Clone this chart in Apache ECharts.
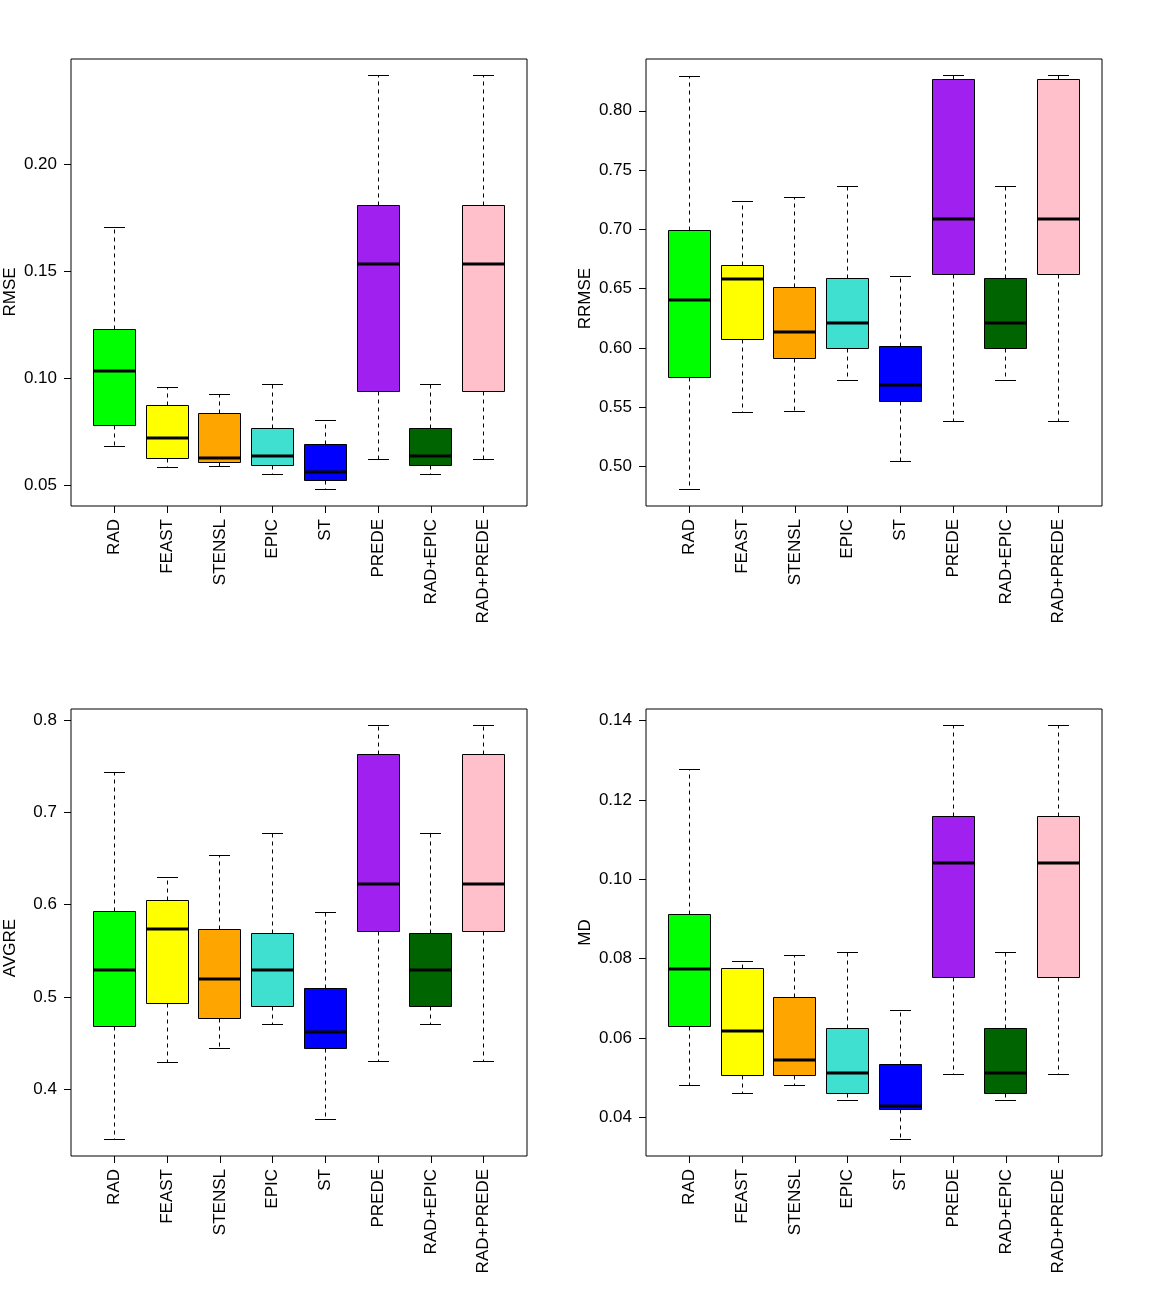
<!DOCTYPE html>
<html>
<head>
<meta charset="utf-8">
<script src="https://cdn.jsdelivr.net/npm/echarts@6.0.0/dist/echarts.min.js"></script>
<style>
  html, body { margin: 0; padding: 0; background: #fff; }
  #main { width: 1150px; height: 1300px; }
</style>
</head>
<body>
<div id="main"></div>
<script>
var categories = ['RAD', 'FEAST', 'STENSL', 'EPIC', 'ST', 'PREDE', 'RAD+EPIC', 'RAD+PREDE'];
var boxColors = ['#00FF00', '#FFFF00', '#FFA500', '#40E0D0', '#0000FF', '#A020F0', '#006400', '#FFC0CB'];

// each row: [lower whisker, Q1, median, Q3, upper whisker]
var rmseStats = [
  [0.0682, 0.0780, 0.1033, 0.1229, 0.1706],
  [0.0584, 0.0626, 0.0720, 0.0872, 0.0958],
  [0.0589, 0.0607, 0.0626, 0.0836, 0.0925],
  [0.0551, 0.0593, 0.0637, 0.0766, 0.0972],
  [0.0481, 0.0523, 0.0561, 0.0692, 0.0804],
  [0.0621, 0.0939, 0.1533, 0.1808, 0.2416],
  [0.0551, 0.0593, 0.0637, 0.0766, 0.0972],
  [0.0621, 0.0939, 0.1533, 0.1808, 0.2416]
];
var rrmseStats = [
  [0.4806, 0.5750, 0.6400, 0.6990, 0.8288],
  [0.5455, 0.6071, 0.6577, 0.6695, 0.7234],
  [0.5464, 0.5911, 0.6130, 0.6509, 0.7268],
  [0.5725, 0.5995, 0.6214, 0.6585, 0.7363],
  [0.5042, 0.5548, 0.5691, 0.6012, 0.6602],
  [0.5379, 0.6619, 0.7083, 0.8263, 0.8297],
  [0.5725, 0.5995, 0.6214, 0.6585, 0.7363],
  [0.5379, 0.6619, 0.7083, 0.8263, 0.8297]
];
var avgreStats = [
  [0.3459, 0.4682, 0.5288, 0.5926, 0.7431],
  [0.4292, 0.4931, 0.5732, 0.6045, 0.6294],
  [0.4444, 0.4768, 0.5201, 0.5732, 0.6532],
  [0.4703, 0.4898, 0.5288, 0.5688, 0.6771],
  [0.3675, 0.4444, 0.4617, 0.5093, 0.5916],
  [0.4303, 0.5710, 0.6219, 0.7626, 0.7939],
  [0.4703, 0.4898, 0.5288, 0.5688, 0.6771],
  [0.4303, 0.5710, 0.6219, 0.7626, 0.7939]
];
var mdStats = [
  [0.0481, 0.0629, 0.0773, 0.0911, 0.1276],
  [0.0460, 0.0506, 0.0617, 0.0775, 0.0793],
  [0.0481, 0.0506, 0.0546, 0.0702, 0.0808],
  [0.0443, 0.0460, 0.0513, 0.0624, 0.0815],
  [0.0345, 0.0420, 0.0430, 0.0533, 0.0669],
  [0.0508, 0.0753, 0.1042, 0.1158, 0.1387],
  [0.0443, 0.0460, 0.0513, 0.0624, 0.0815],
  [0.0508, 0.0753, 0.1042, 0.1158, 0.1387]
];

var rmseTicks = [0.05, 0.10, 0.15, 0.20];
var rrmseTicks = [0.50, 0.55, 0.60, 0.65, 0.70, 0.75, 0.80];
var avgreTicks = [0.4, 0.5, 0.6, 0.7, 0.8];
var mdTicks = [0.04, 0.06, 0.08, 0.10, 0.12, 0.14];

var FONT = '"Liberation Sans", Arial, sans-serif';

var panels = [
  { name: 'RMSE', stats: rmseStats, ticks: rmseTicks, dec: 2, left: 71, top: 59, shift: 19 },
  { name: 'RRMSE', stats: rrmseStats, ticks: rrmseTicks, dec: 2, left: 646, top: 59, shift: 32 },
  { name: 'AVGRE', stats: avgreStats, ticks: avgreTicks, dec: 1, left: 71, top: 709, shift: 31 },
  { name: 'MD', stats: mdStats, ticks: mdTicks, dec: 2, left: 646, top: 709, shift: 0 }
];

// snap 1px lines to the pixel grid so the dashes stay crisp
function crisp(v) {
  return Math.round(v - 0.5) + 0.5;
}

// R style box: whiskers dashed, staples, filled box, thick median
function renderBox(params, api) {
  var x = api.value(0);
  var lo = api.coord([x, api.value(1)]);
  var q1 = api.coord([x, api.value(2)]);
  var med = api.coord([x, api.value(3)]);
  var q3 = api.coord([x, api.value(4)]);
  var hi = api.coord([x, api.value(5)]);
  var bw = Math.round(api.size([0.8, 0])[0]);
  var sw = Math.round(api.size([0.4, 0])[0]);
  var cx = crisp(lo[0]);
  var yLo = crisp(lo[1]), yQ1 = crisp(q1[1]), yQ3 = crisp(q3[1]), yHi = crisp(hi[1]);
  var left = cx - bw / 2;
  var dashed = { stroke: '#000', lineWidth: 1, lineDash: [4, 4] };
  var solid = { stroke: '#000', lineWidth: 1 };
  return {
    type: 'group',
    children: [
      { type: 'line', shape: { x1: cx, y1: yQ3, x2: cx, y2: yHi }, style: dashed },
      { type: 'line', shape: { x1: cx, y1: yQ1, x2: cx, y2: yLo }, style: dashed },
      { type: 'line', shape: { x1: cx - sw / 2, y1: yHi, x2: cx + sw / 2, y2: yHi }, style: solid },
      { type: 'line', shape: { x1: cx - sw / 2, y1: yLo, x2: cx + sw / 2, y2: yLo }, style: solid },
      {
        type: 'rect',
        shape: { x: left, y: yQ3, width: bw, height: yQ1 - yQ3 },
        style: { fill: boxColors[x - 1], stroke: '#000', lineWidth: 1 }
      },
      { type: 'line', shape: { x1: left, y1: Math.round(med[1]), x2: left + bw, y2: Math.round(med[1]) }, style: { stroke: '#000', lineWidth: 3 } }
    ]
  };
}

var grids = [], xAxes = [], yAxes = [], series = [];
panels.forEach(function (p, i) {
  var lows = p.stats.map(function (s) { return s[0]; });
  var highs = p.stats.map(function (s) { return s[4]; });
  var dMin = Math.min.apply(null, lows), dMax = Math.max.apply(null, highs);
  var pad = (dMax - dMin) * 0.04;

  grids.push({
    left: p.left, top: p.top, width: 456, height: 447,
    show: true, borderColor: '#000', borderWidth: 1, backgroundColor: 'transparent'
  });
  xAxes.push({
    type: 'value', gridIndex: i, min: 0.18, max: 8.82,
    splitLine: { show: false }, axisLine: { show: false },
    axisTick: { show: true, length: 7, inside: false, customValues: [1, 2, 3, 4, 5, 6, 7, 8], lineStyle: { color: '#000' } },
    axisLabel: {
      customValues: [1, 2, 3, 4, 5, 6, 7, 8], rotate: 90, margin: 13,
      color: '#000', fontSize: 17, fontFamily: FONT,
      formatter: function (v) { return categories[Math.round(v) - 1]; }
    }
  });
  yAxes.push({
    type: 'value', gridIndex: i, min: dMin - pad, max: dMax + pad,
    name: p.name, nameLocation: 'middle', nameGap: 52, nameRotate: 90,
    nameTextStyle: { color: '#000', fontSize: 17, fontFamily: FONT, padding: [0, p.shift, 0, 0] },
    splitLine: { show: false }, axisLine: { show: false },
    axisTick: { show: true, length: 7, customValues: p.ticks, lineStyle: { color: '#000' } },
    axisLabel: {
      customValues: p.ticks, margin: 14, color: '#000', fontSize: 17, fontFamily: FONT,
      formatter: (function (d) { return function (v) { return v.toFixed(d); }; })(p.dec)
    }
  });
  series.push({
    type: 'custom', xAxisIndex: i, yAxisIndex: i,
    renderItem: renderBox,
    encode: { x: 0, y: [1, 2, 3, 4, 5] },
    data: p.stats.map(function (s, k) { return [k + 1].concat(s); }),
    clip: false
  });
});

var option = {
  animation: false,
  backgroundColor: '#fff',
  grid: grids,
  xAxis: xAxes,
  yAxis: yAxes,
  series: series
};

var chartDom = document.getElementById('main');
var myChart = echarts.init(chartDom);
myChart.setOption(option);
window.onresize = function () {
  myChart.resize();
};
</script>
</body>
</html>
